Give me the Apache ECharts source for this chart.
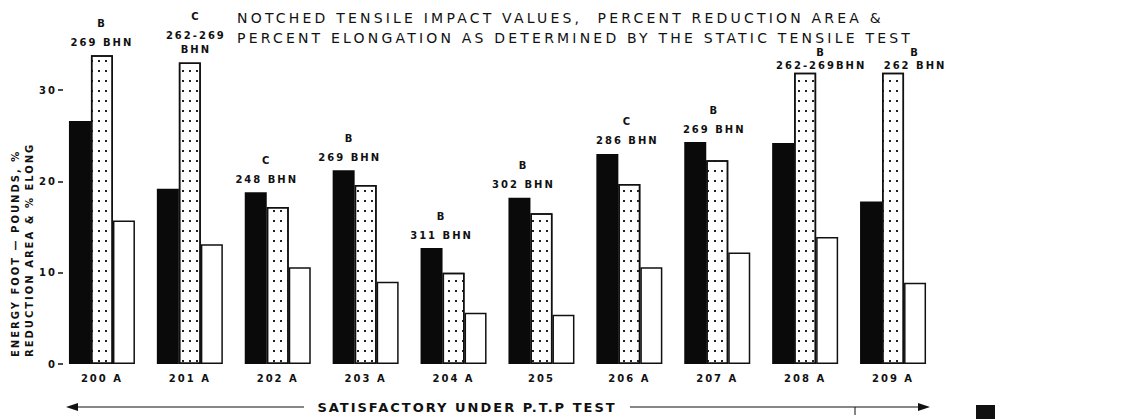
<!DOCTYPE html>
<html>
<head>
<meta charset="utf-8">
<script src="https://cdn.jsdelivr.net/npm/echarts@6/dist/echarts.min.js"></script>
<style>
  html, body { margin: 0; padding: 0; background: #fff; }
  #chart { width: 1132px; height: 419px; }
  #chart text { letter-spacing: 2px; white-space: pre; }
  /* the heading is lettered wider than the rest */
  #chart text[style*="14px"], #chart text[font-size="14"], #chart text[font-size="14px"] { letter-spacing: 3.2px; }
</style>
</head>
<body>
<div id="chart"></div>
<script>
const categories = ['200 A', '201 A', '202 A', '203 A', '204 A', '205', '206 A', '207 A', '208 A', '209 A'];
// energy, foot-pounds (black bars)
const impact = [26.6, 19.2, 18.8, 21.2, 12.7, 18.2, 23.0, 24.3, 24.2, 17.8];
// % reduction of area (dotted bars)
const reduction = [33.8, 33.0, 17.2, 19.6, 10.0, 16.5, 19.7, 22.3, 31.9, 31.9];
// % elongation (open bars)
const elongation = [15.7, 13.1, 10.6, 9.0, 5.6, 5.4, 10.6, 12.2, 13.9, 8.9];
const grades = ['B', 'C', 'C', 'B', 'B', 'B', 'C', 'B', 'B', 'B'];
const hardness = ['269 BHN', '262-269\nBHN', '248 BHN', '269 BHN', '311 BHN', '302 BHN', '286 BHN', '269 BHN', '262-269BHN', '262 BHN'];
const yTicks = [0, 10, 20, 30];

// small horizontal shifts of the hardness notes, as lettered on the sheet
const labelNudge = [0, 6, 11, 6, 10, 4, 20, 19, 16, 22];
// notes squeezed in right under the heading
const compactNotes = [8, 9];

const font = 'DejaVu Sans';
const ink = '#111';

const chart = echarts.init(document.getElementById('chart'), null, { renderer: 'svg' });

// the note goes over whichever bar is tallest in the group
function withNotes(values, key) {
  return values.map((v, i) => {
    const top = impact[i] >= reduction[i] ? 'impact' : 'reduction';
    if (top !== key) return v;
    const lines = hardness[i].split('\n').map(s => '{h|' + s + '}').join('\n');
    const compact = compactNotes.includes(i);
    const label = {
      show: true,
      position: 'top',
      distance: compact ? 1 : 6,
      offset: [labelNudge[i], 0],
      formatter: '{g|' + grades[i] + '}\n' + lines
    };
    if (compact) {
      label.rich = {
        g: { fontFamily: font, fontWeight: 'bold', fontSize: 10, lineHeight: 13, color: ink },
        h: { fontFamily: font, fontWeight: 'bold', fontSize: 10, lineHeight: 13, color: ink }
      };
    }
    return { value: v, label: label };
  });
}

const noteStyle = {
  color: ink,
  fontFamily: font,
  fontWeight: 'bold',
  fontSize: 10,
  rich: {
    g: { fontFamily: font, fontWeight: 'bold', fontSize: 10, lineHeight: 24, color: ink },
    h: { fontFamily: font, fontWeight: 'bold', fontSize: 10, lineHeight: 14, color: ink }
  }
};

const option = {
  backgroundColor: '#fff',
  animation: false,
  title: {
    text: 'NOTCHED TENSILE IMPACT VALUES,  PERCENT REDUCTION AREA &\nPERCENT ELONGATION AS DETERMINED BY THE STATIC TENSILE TEST',
    left: 232,
    top: 3,
    textStyle: { fontFamily: font, fontSize: 14, fontWeight: 'normal', color: ink, lineHeight: 20 }
  },
  grid: { left: 58, right: 195, top: 90, bottom: 55 },
  xAxis: {
    type: 'category',
    data: categories,
    axisLine: { show: false },
    axisTick: { show: false },
    axisLabel: { fontFamily: font, fontSize: 10, fontWeight: 'bold', color: ink, margin: 9 }
  },
  yAxis: {
    type: 'value',
    min: yTicks[0],
    max: yTicks[yTicks.length - 1],
    interval: 10,
    axisLine: { show: false },
    splitLine: { show: false },
    axisTick: { show: true, inside: true, length: 5, lineStyle: { color: ink, width: 1.5 } },
    axisLabel: { fontFamily: font, fontSize: 10, fontWeight: 'bold', color: ink, margin: 1 }
  },
  series: [
    {
      name: 'Energy',
      type: 'bar',
      clip: false,
      barWidth: 22,
      barGap: '0%',
      data: withNotes(impact, 'impact'),
      itemStyle: { color: '#0a0a0a' },
      label: noteStyle
    },
    {
      name: 'Reduction area',
      type: 'bar',
      clip: false,
      barWidth: 22,
      barGap: '0%',
      data: withNotes(reduction, 'reduction'),
      itemStyle: {
        color: '#fff',
        borderColor: ink,
        borderWidth: 1.5,
        decal: {
          symbol: 'rect',
          symbolSize: 1,
          color: '#222',
          backgroundColor: '#fff',
          dashArrayX: [2, 5],
          dashArrayY: [2, 8],
          rotation: 0
        }
      },
      label: noteStyle
    },
    {
      name: 'Elongation',
      type: 'bar',
      clip: false,
      barWidth: 22,
      barGap: '0%',
      data: elongation,
      itemStyle: { color: '#fff', borderColor: ink, borderWidth: 1.5 }
    }
  ],
  graphic: [
    {
      type: 'text', x: 15, y: 357, rotation: Math.PI / 2,
      style: { text: 'ENERGY FOOT — POUNDS, %', fill: ink, font: 'bold 10px "DejaVu Sans"', textAlign: 'left', textVerticalAlign: 'middle' }
    },
    {
      type: 'text', x: 29, y: 357, rotation: Math.PI / 2,
      style: { text: 'REDUCTION AREA & % ELONG', fill: ink, font: 'bold 10px "DejaVu Sans"', textAlign: 'left', textVerticalAlign: 'middle' }
    },
    // "satisfactory" arrow under the chart
    { type: 'line', shape: { x1: 70, y1: 407, x2: 304, y2: 407 }, style: { stroke: ink, lineWidth: 1.2 } },
    { type: 'line', shape: { x1: 630, y1: 407, x2: 926, y2: 407 }, style: { stroke: ink, lineWidth: 1.2 } },
    { type: 'line', shape: { x1: 855, y1: 407, x2: 855, y2: 415 }, style: { stroke: ink, lineWidth: 1 } },
    { type: 'polygon', shape: { points: [[66, 407], [78, 403], [78, 411]] }, style: { fill: ink } },
    { type: 'polygon', shape: { points: [[930, 407], [918, 403], [918, 411]] }, style: { fill: ink } },
    {
      type: 'text', x: 467, y: 407,
      style: { text: 'SATISFACTORY UNDER P.T.P TEST', fill: ink, font: 'bold 13px "DejaVu Sans"', textAlign: 'center', textVerticalAlign: 'middle' }
    },
    { type: 'rect', shape: { x: 976, y: 405, width: 19, height: 14 }, style: { fill: '#111' } }
  ]
};

chart.setOption(option);
</script>
</body>
</html>
